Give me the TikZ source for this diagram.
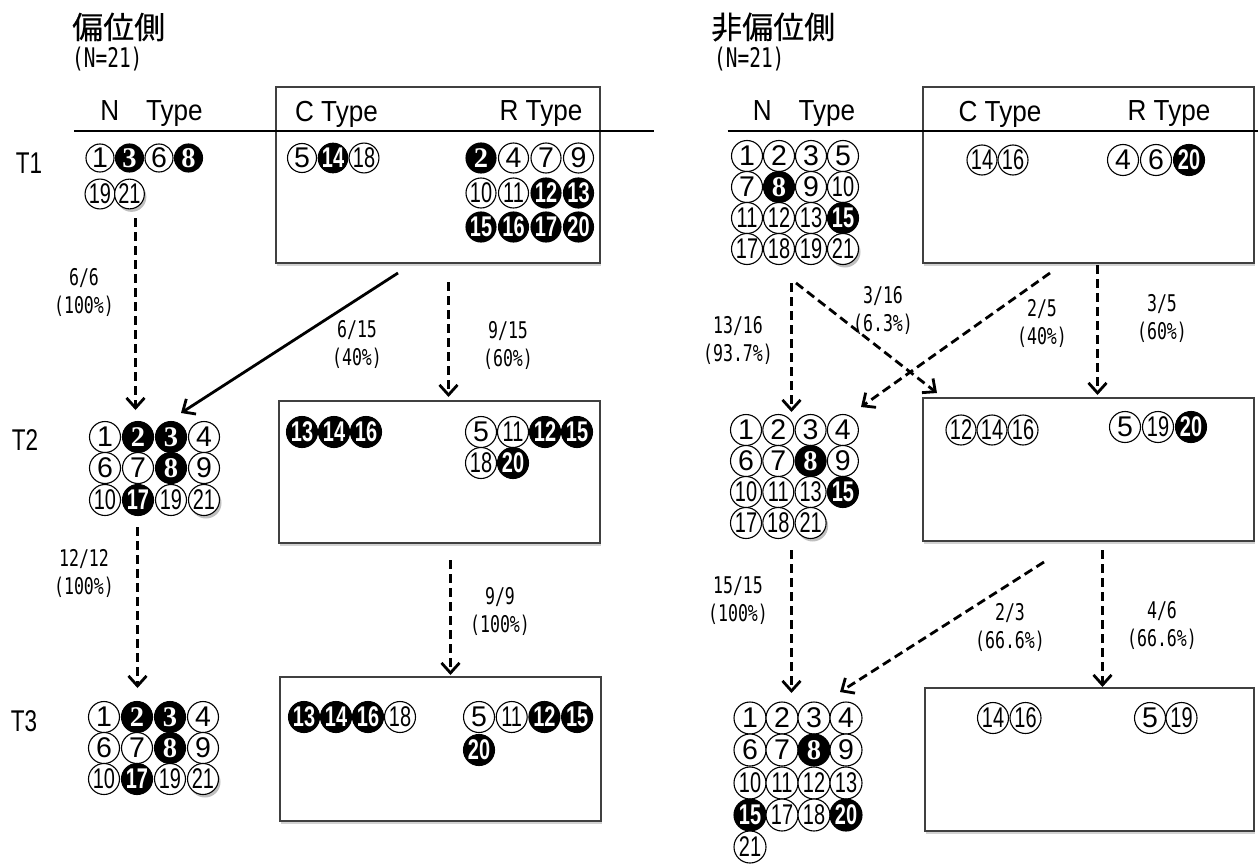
\documentclass[tikz,border=0pt]{standalone}
\usepackage{fontspec}
\setmainfont{Liberation Sans}
\setsansfont{Liberation Sans}
\newfontfamily\jp[FakeBold=0.4]{Noto Sans CJK JP}
\newfontfamily\lab[FakeStretch=0.72]{DejaVu Sans Mono}
\newfontfamily\hlab[FakeStretch=0.9]{Liberation Sans}
\newfontfamily\tlab[FakeStretch=0.75]{Liberation Sans}
\newfontfamily\ntwo[FakeStretch=0.7]{Liberation Sans}
\newfontfamily\none{Liberation Sans}
\newfontfamily\dB{Liberation Serif}
\let\dW\none
\let\dS\none
\usetikzlibrary{arrows.meta,shadows}
\newcommand\dg[1]{\ifnum#1>9 {\ntwo #1}\else{\csname d\c\endcsname #1}\fi}
\newcommand\crow[6]{\foreach \n/\c [count=\i from 0] in {#6}{\node[c\c,minimum size=#5pt] (#1-\n) at ({#2+\i*#4},#3) {\dg{\n}};}}
\tikzset{
 cW/.style={circle,draw=black,line width=1.1pt,fill=white,text=black,inner sep=0pt,font=\fontsize{28.5}{28}\selectfont},
 cB/.style={cW,fill=black,text=white,font=\fontsize{28.5}{28}\selectfont\bfseries},
 cS/.style={cW,drop shadow={shadow xshift=2pt,shadow yshift=-3pt,opacity=0.5}},
 box/.style={draw=black!75,line width=1.5pt,fill=white,inner sep=0pt,drop shadow={shadow xshift=1pt,shadow yshift=-2.5pt,opacity=0.35}},
 hdr/.style={font=\hlab\fontsize{29}{29}\selectfont,inner sep=0pt},
 tl/.style={font=\tlab\fontsize{30}{30}\selectfont,inner sep=0pt},
 pct/.style={font=\lab\fontsize{23}{28}\selectfont,align=center,inner sep=0pt},
 darr/.style={line width=2.8pt,dash pattern=on 9pt off 5pt,-{Straight Barb[length=10pt,width=18pt]}},
 sarr/.style={line width=2.8pt,-{Straight Barb[length=10pt,width=18pt]}},
}
\begin{document}
\begin{tikzpicture}[x=1pt,y=-1pt]
\useasboundingbox (0,0) rectangle (1258,864);
\fill[white] (0,0) rectangle (1258,864);
% boxes
\node[box,minimum width=324pt,minimum height=176pt] (L1) at (438,175) {};
\node[box,minimum width=321pt,minimum height=142pt] (L2) at (439.5,472) {};
\node[box,minimum width=321pt,minimum height=144pt] (L3) at (440.5,749) {};
\node[box,minimum width=331pt,minimum height=176pt] (R1) at (1088.5,175) {};
\node[box,minimum width=331pt,minimum height=143pt] (R2) at (1088.5,469.5) {};
\node[box,minimum width=329pt,minimum height=143pt] (R3) at (1089.5,759.5) {};
% header lines
\coordinate (hl1) at (74,131); \coordinate (hl2) at (654,131);
\coordinate (hr1) at (727.5,131); \coordinate (hr2) at (1258,131);
\draw[line width=2.5pt] (hl1) -- (hl2);
\draw[line width=2.5pt] (hr1) -- (hr2);
% titles
\node[anchor=west,inner sep=0pt,font=\jp\fontsize{31}{31}\selectfont] (tL) at (72,27) {偏位側};
\node[anchor=west,inner sep=0pt,font=\lab\fontsize{27}{27}\selectfont] (nL) at (72,59) {(N=21)};
\node[anchor=west,inner sep=0pt,font=\jp\fontsize{31}{31}\selectfont] (tR) at (711,27) {非偏位側};
\node[anchor=west,inner sep=0pt,font=\lab\fontsize{27}{27}\selectfont] (nR) at (714,59) {(N=21)};
% headers
\node[hdr] (hNL) at (151.5,114) {N\hspace{27pt}Type};
\node[hdr] (hCL) at (336.5,114) {C Type};
\node[hdr] (hRL) at (541,114) {R Type};
\node[hdr] (hNR) at (804,114) {N\hspace{27pt}Type};
\node[hdr] (hCR) at (1000,114) {C Type};
\node[hdr] (hRR) at (1169,114) {R Type};
% time labels
\node[tl] (T1) at (29,163) {T1};
\node[tl] (T2) at (25,440) {T2};
\node[tl] (T3) at (24,721) {T3};
% circles left
\crow{L1N}{100}{158}{29.5}{28}{1/W,3/B,6/W,8/B}
\crow{L1N}{100}{194}{29.5}{28}{19/W,21/S}
\crow{L1C}{302}{158}{31}{29}{5/W,14/B,18/W}
\crow{L1R}{481}{158}{32.5}{30}{2/B,4/W,7/W,9/W}
\crow{L1R}{481}{193}{32.5}{30}{10/W,11/W,12/B,13/B}
\crow{L1R}{481}{227}{32.5}{30}{15/B,16/B,17/B,20/B}
\crow{L2N}{105}{437}{33}{31}{1/W,2/B,3/B,4/W}
\crow{L2N}{105}{468}{33}{31}{6/W,7/W,8/B,9/W}
\crow{L2N}{105}{500}{33}{31}{10/W,17/B,19/W,21/S}
\crow{L2C}{302}{432}{32}{31}{13/B,14/B,16/B}
\crow{L2R}{481}{432}{32}{31}{5/W,11/W,12/B,15/B}
\crow{L2R}{481}{463}{32}{31}{18/W,20/B}
\crow{L3N}{104}{717}{33}{31}{1/W,2/B,3/B,4/W}
\crow{L3N}{104}{748}{33}{31}{6/W,7/W,8/B,9/W}
\crow{L3N}{104}{779}{33}{31}{10/W,17/B,19/W,21/S}
\crow{L3C}{304}{717}{32}{31}{13/B,14/B,16/B,18/W}
\crow{L3R}{479}{717}{32.7}{31}{5/W,11/W,12/B,15/B}
\crow{L3R}{479}{750}{32.7}{31}{20/B}
% circles right
\crow{R1N}{747}{156}{32}{31}{1/W,2/W,3/W,5/W}
\crow{R1N}{747}{187}{32}{31}{7/W,8/B,9/W,10/W}
\crow{R1N}{747}{218}{32}{31}{11/W,12/W,13/W,15/B}
\crow{R1N}{747}{249}{32}{31}{17/W,18/W,19/W,21/S}
\crow{R1C}{982}{160}{31}{30}{14/W,16/W}
\crow{R1R}{1123}{160}{33}{31}{4/W,6/W,20/B}
\crow{R2N}{746}{430}{32.3}{31}{1/W,2/W,3/W,4/W}
\crow{R2N}{746}{461}{32.3}{31}{6/W,7/W,8/B,9/W}
\crow{R2N}{746}{492}{32.3}{31}{10/W,11/W,13/W,15/B}
\crow{R2N}{746}{523}{32.3}{31}{17/W,18/W,21/S}
\crow{R2C}{961}{430}{31}{30}{12/W,14/W,16/W}
\crow{R2R}{1125}{427}{33}{31}{5/W,19/W,20/B}
\crow{R3N}{750}{718}{32}{32}{1/W,2/W,3/W,4/W}
\crow{R3N}{750}{750}{32}{32}{6/W,7/W,8/B,9/W}
\crow{R3N}{750}{783}{32}{32}{10/W,11/W,12/W,13/W}
\crow{R3N}{750}{815}{32}{32}{15/B,17/W,18/W,20/B}
\crow{R3N}{750}{847}{32}{32}{21/W}
\crow{R3C}{993}{718}{32.5}{31}{14/W,16/W}
\crow{R3R}{1150}{718}{31.5}{31}{5/W,19/W}
% arrow end points
\coordinate (a1s) at (135.5,218); \coordinate (a1e) at (135.5,410);
\coordinate (a2s) at (398,273);   \coordinate (a2e) at (181,413);
\coordinate (a3s) at (448.5,282); \coordinate (a3e) at (448.5,397);
\coordinate (a4s) at (137.5,527); \coordinate (a4e) at (137.5,688);
\coordinate (a5s) at (450.5,560); \coordinate (a5e) at (450.5,675);
\coordinate (b1s) at (791.5,283); \coordinate (b1e) at (791.5,412);
\coordinate (b2s) at (796,283);   \coordinate (b2e) at (937,393);
\coordinate (b3s) at (1050,273);  \coordinate (b3e) at (861,407);
\coordinate (b4s) at (1097.5,265);\coordinate (b4e) at (1097.5,395);
\coordinate (b5s) at (791.5,550); \coordinate (b5e) at (791.5,693);
\coordinate (b6s) at (1044,562);  \coordinate (b6e) at (840,692);
\coordinate (b7s) at (1102.5,550);\coordinate (b7e) at (1102.5,687);
\draw[darr] (a1s) -- (a1e);
\draw[sarr] (a2s) -- (a2e);
\draw[darr] (a3s) -- (a3e);
\draw[darr] (a4s) -- (a4e);
\draw[darr] (a5s) -- (a5e);
\draw[darr] (b1s) -- (b1e);
\draw[darr] (b2s) -- (b2e);
\draw[darr] (b3s) -- (b3e);
\draw[darr] (b4s) -- (b4e);
\draw[darr] (b5s) -- (b5e);
\draw[darr] (b6s) -- (b6e);
\draw[darr] (b7s) -- (b7e);
% percentage labels
\node[pct] (p1) at (84,292) {6/6\\(100\%)};
\node[pct] (p2) at (357,344) {6/15\\(40\%)};
\node[pct] (p3) at (508,345) {9/15\\(60\%)};
\node[pct] (p4) at (84,573) {12/12\\(100\%)};
\node[pct] (p5) at (500,611) {9/9\\(100\%)};
\node[pct] (q1) at (738,340) {13/16\\(93.7\%)};
\node[pct] (q2) at (883,310) {3/16\\(6.3\%)};
\node[pct] (q3) at (1042,323) {2/5\\(40\%)};
\node[pct] (q4) at (1162,318) {3/5\\(60\%)};
\node[pct] (q5) at (738,601) {15/15\\(100\%)};
\node[pct] (q6) at (1010,627) {2/3\\(66.6\%)};
\node[pct] (q7) at (1162,625) {4/6\\(66.6\%)};
\end{tikzpicture}
\end{document}
